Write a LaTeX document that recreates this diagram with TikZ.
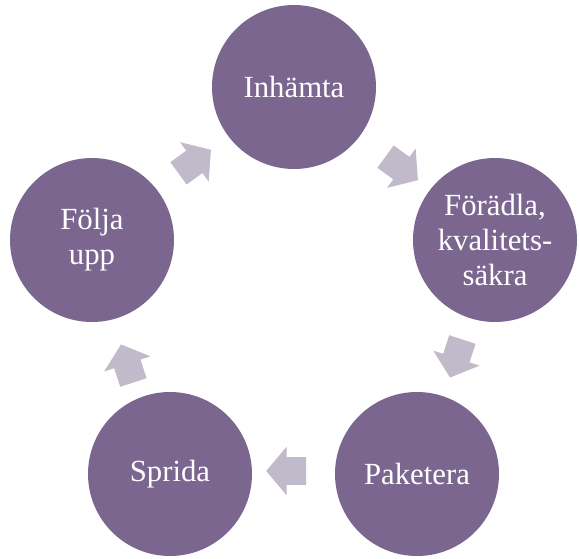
\documentclass[tikz,border=0pt]{standalone}
\usepackage{fontspec}
\setmainfont{Liberation Serif}
\usetikzlibrary{shapes.arrows}
\definecolor{phasecol}{HTML}{7B668F}
\definecolor{arrowcol}{HTML}{C0BACB}
\tikzset{
  cnode/.style={circle, fill=phasecol, text=white, minimum size=3.28cm, inner sep=1pt, align=center,
                font=\fontsize{17.5}{20}\selectfont},
  anode/.style={single arrow, fill=arrowcol, inner xsep=0pt, inner ysep=0.27cm, minimum height=0.8cm,
                single arrow head extend=0.21cm, single arrow tip angle=100},
}
\begin{document}
\begin{tikzpicture}
  \useasboundingbox (0,0) rectangle (11.58,11.16);
  \node[cnode] (In) at (5.88, 9.42) {Inhämta};
  \node[cnode] (Fo) at (9.90, 6.36) {Förädla,\\kvalitets-\\säkra};
  \node[cnode] (Pa) at (8.34, 1.68) {Paketera};
  \node[cnode] (Sp) at (3.40, 1.68) {Sprida};
  \node[cnode] (Fu) at (1.84, 6.36) {Följa\\upp};
  % arrows between the steps
  \node[anode, rotate=36]   (a1) at (3.80, 7.86) {};
  \node[anode, rotate=-36]  (a2) at (7.94, 7.86) {};
  \node[anode, rotate=-108] (a3) at (9.16, 4.10) {};
  \node[anode, rotate=180]  (a4) at (5.84, 1.74) {};
  \node[anode, rotate=108]  (a5) at (2.58, 3.78) {};
\end{tikzpicture}
\end{document}
